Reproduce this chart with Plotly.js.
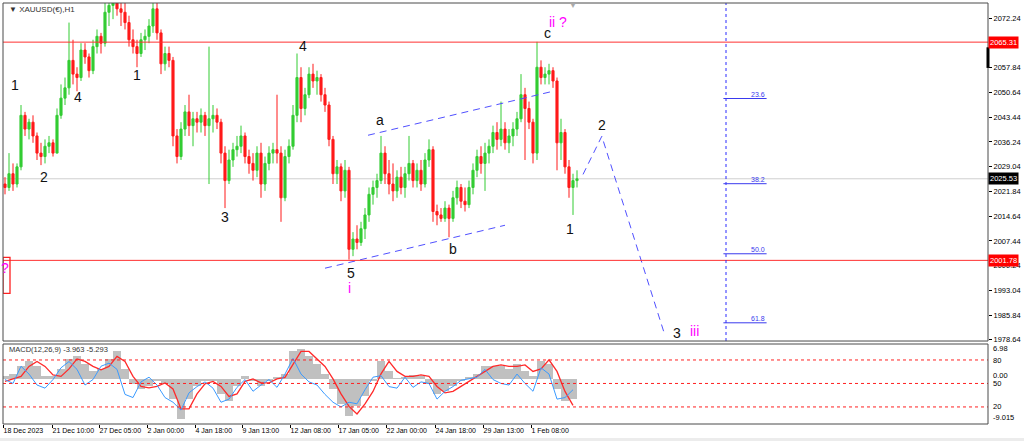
<!DOCTYPE html>
<html><head><meta charset="utf-8">
<script src="https://cdn.plot.ly/plotly-3.0.1.min.js"></script>
<style>html,body{margin:0;padding:0;background:#fff;}#chart{width:1024px;height:441px;}</style>
</head><body><div id="chart"></div>
<script>
// ---------- price data (one candle per ~5 hourly bars) ----------
const openP=[2024,2023,2027,2024,2029,2044,2040,2042,2038,2033,
2032,2035,2036,2033,2044,2049,2052,2060,2056,2055,
2063,2061,2057,2064,2067,2065,2074,2076,2078,2075,
2074,2071,2066,2064,2062,2066,2067,2070,2075,2068,
2059,2062,2060,2038,2032,2040,2045,2041,2043,2042,
2044,2041,2043,2044,2042,2033,2025,2031,2034,2035,
2038,2032,2030,2028,2033,2024,2030,2033,2034,2033,
2020,2032,2035,2044,2055,2046,2050,2056,2054,2055,
2050,2047,2037,2027,2029,2022,2028,2005,2008,2007,
2011,2015,2021,2023,2025,2033,2027,2024,2022,2026,
2023,2027,2030,2025,2028,2024,2031,2034,2016,2015,
2014,2017,2014,2020,2023,2019,2018,2023,2028,2032,
2030,2033,2035,2039,2037,2040,2036,2038,2040,2043,
2050,2046,2042,2033,2058,2055,2056,2057,2054,2036,
2039,2029,2023,2025];
const highP=[2026,2033,2030,2030,2047,2045,2043,2044,2039,2036,
2037,2038,2037,2046,2053,2055,2071,2066,2058,2065,
2065,2062,2066,2069,2068,2077,2078,2080,2082,2080,
2077,2073,2069,2066,2068,2069,2072,2078,2077,2069,
2064,2064,2061,2040,2042,2047,2050,2045,2045,2046,
2045,2064,2047,2046,2043,2035,2034,2036,2038,2041,
2039,2034,2033,2035,2036,2032,2035,2036,2050,2035,
2034,2037,2047,2062,2058,2052,2058,2059,2057,2056,
2052,2048,2038,2031,2030,2031,2029,2010,2012,2013,
2017,2023,2025,2027,2038,2035,2031,2030,2028,2029,
2029,2038,2031,2030,2031,2033,2037,2035,2018,2017,
2019,2018,2022,2025,2024,2023,2025,2030,2034,2035,
2036,2037,2041,2042,2048,2042,2040,2042,2045,2056,
2052,2048,2043,2065.4,2060,2058,2059,2058,2055,2043,
2040,2031,2027,2028];
const lowP=[2021,2022,2022,2023,2028,2038,2037,2036,2031,2029.5,
2030,2033,2032,2033,2043,2047,2050,2053,2051,2054,
2059,2055,2056,2062,2062,2064,2070,2072,2073,2070,
2069,2064,2062,2058,2061,2063,2065,2068,2066,2056,
2057,2058,2035,2030,2031,2038,2038,2035,2039,2039,
2038,2024,2039,2040,2030,2017,2024,2029,2032,2033,
2030,2027,2025,2026,2020,2022,2028,2030,2030,2013,
2019,2030,2034,2042,2042,2044,2049,2052,2050,2048,
2045,2035,2024,2024,2019,2020,2002,2003,2005,2006,
2008,2013,2018,2020,2024,2024,2021,2019,2020,2021,
2020,2025,2023,2023,2022,2023,2029,2013,2012,2013,
2013,2008.5,2013,2018,2017,2016,2017,2021,2026,2027,
2022,2030,2033,2034,2035,2034,2033,2035,2038,2042,
2031,2040,2030,2031,2053,2053,2053,2052,2028,2031,
2027,2020,2015,2023];
const closeP=[2023,2027,2024,2029,2044,2040,2042,2038,2033,2032,
2035,2036,2033,2044,2049,2052,2060,2056,2055,2063,
2061,2057,2064,2067,2065,2074,2076,2078,2075,2074,
2071,2066,2064,2062,2066,2067,2070,2075,2068,2059,
2062,2060,2038,2032,2040,2045,2041,2043,2042,2044,
2041,2043,2044,2042,2033,2025,2031,2034,2035,2038,
2032,2030,2028,2033,2024,2030,2033,2034,2033,2020,
2032,2035,2044,2055,2046,2050,2056,2054,2055,2050,
2047,2037,2027,2029,2022,2028,2005,2008,2007,2011,
2015,2021,2023,2025,2033,2027,2024,2022,2026,2023,
2027,2030,2025,2028,2024,2031,2034,2016,2015,2014,
2017,2014,2020,2023,2019,2018,2023,2028,2032,2030,
2033,2035,2039,2037,2040,2036,2038,2040,2043,2050,
2046,2042,2033,2058,2055,2056,2057,2054,2036,2039,
2029,2023,2025,2025.53];

// ---------- MACD panel (one sample per two candles) ----------
const macdHist=[0.5,1.0,2.5,3.5,2.5,0.5,0.5,2.0,4.0,4.5,
3.0,1.5,2.0,4.0,5.5,2.0,-1.0,-2.0,-1.5,-0.5,
-1.0,-4.0,-8.0,-4.0,-1.5,-0.5,-0.5,-3.0,-4.5,-1.5,
0.5,-0.5,-1.5,-0.5,0.3,1.0,5.5,6.0,4.5,3.0,
1.0,-2.0,-5.0,-7.5,-5.5,-3.5,-0.5,3.5,1.5,0.2,
0.3,0.8,0.5,-1.0,-3.0,-2.5,-1.5,-0.5,0.3,1.0,
2.5,2.5,2.5,2.0,3.0,1.5,0.5,3.5,3.0,-2.0,
-4.5,-3.963];
const macdSignal=[-0.5,0.0,0.5,2.5,3.5,2.5,0.8,0.5,2.0,4.0,
3.5,2.5,1.8,2.5,4.5,3.5,0.5,-1.5,-1.8,-1.5,
-0.8,-2.0,-6.0,-6.0,-3.0,-1.0,-0.5,-1.5,-3.5,-3.0,
-0.5,0.0,-0.8,-0.8,0.0,0.3,3.0,5.5,5.5,4.0,
2.5,0.0,-3.0,-5.5,-7.0,-5.0,-2.5,1.0,3.5,1.5,
0.5,0.5,0.8,0.5,-1.5,-2.8,-2.5,-1.5,-0.5,0.5,
1.5,2.5,2.8,2.5,2.5,2.8,1.5,2.0,3.8,1.5,
-2.5,-5.293];
const oscBlue=[55,50,72,62,48,44,55,70,78,68,
48,55,72,76,68,36,32,52,58,48,
32,26,16,38,46,52,44,26,30,45,
55,40,48,55,45,62,82,62,52,48,
36,26,20,26,24,42,58,60,46,44,
58,45,52,50,30,40,46,54,56,58,
68,55,50,48,62,50,40,70,62,30,
32,42];
const oscLevels=[80,50,20];

// ---------- axes ----------
const priceTicks=[2072.24,2057.84,2050.64,2043.44,2036.24,2029.04,2021.84,2014.64,2007.44,2000.24,1993.04,1985.84,1978.64];
const timeTickIdx=[-0.5,11.75,23.5,35.5,47.5,59.25,71.25,83.25,95.25,107.5,119.5,131.5];
const timeTickText=['18 Dec 2023','21 Dec 10:00','27 Dec 05:00','2 Jan 00:00','4 Jan 18:00','9 Jan 13:00','12 Jan 08:00','17 Jan 05:00','22 Jan 00:00','24 Jan 18:00','29 Jan 13:00','1 Feb 08:00'];

// ---------- levels & drawings ----------
const redLevels=[2065.31,2001.78];
const bidPrice=2025.53;
const fibText=['23.6','38.2','50.0','61.8'];
const fibPrices=[2048.9,2024.1,2003.7,1983.6];
const fibTimeIdx=[180.25];
const fibSpanIdx=[179.6,190.4];
const chanTopIdx=[90.75,136.25], chanTopPrice=[2038.2,2050.8];
const chanBotIdx=[80,125], chanBotPrice=[1999.5,2012.0];
const projIdx=[144.5,149.2,164.75], projPrice=[2026.8,2037.9,1980.8];
const waveText=['1','2','4','1','4','3','5','a','b','c','1','2','3'];
const waveIdx=[2.5,9.75,18.25,33,74.5,55,86.5,93.75,112,135.5,141.25,149.25,168];
const wavePrice=[2052.8,2026.0,2049.3,2055.7,2064.2,2014.3,1998.0,2042.6,2005.0,2068.0,2010.8,2041.1,1980.5];
const degText=['i','ii ?','iii','?'];
const degIdx=[86,138.3,172.3,0];
const degPrice=[1993.6,2071.2,1981.1,1999.7];
const boxIdx=[-0.5,1.25], boxPrice=[1992.15,2002.65];

const idx=closeP.map((_,i)=>i);
const macdIdx=macdHist.map((_,k)=>2*k);
const FONT='Liberation Sans, Arial, sans-serif';

const traces=[
 {type:'candlestick',x:idx,open:openP,high:highP,low:lowP,close:closeP,xaxis:'x',yaxis:'y',
  increasing:{line:{color:'#33cc33',width:1},fillcolor:'#33cc33'},
  decreasing:{line:{color:'#ff1a1a',width:1},fillcolor:'#ff1a1a'},
  whiskerwidth:0,hoverinfo:'skip'},
 {type:'scatter',mode:'lines',x:projIdx,y:projPrice,xaxis:'x',yaxis:'y',
  line:{color:'#5050ff',width:1,dash:'7px,5px'},hoverinfo:'skip'},
 {type:'scatter',mode:'lines',x:chanTopIdx,y:chanTopPrice,xaxis:'x',yaxis:'y',
  line:{color:'#5050ff',width:1,dash:'7px,5px'},hoverinfo:'skip'},
 {type:'scatter',mode:'lines',x:chanBotIdx,y:chanBotPrice,xaxis:'x',yaxis:'y',
  line:{color:'#5050ff',width:1,dash:'7px,5px'},hoverinfo:'skip'},
 {type:'bar',x:macdIdx,y:macdHist,width:2,xaxis:'x',yaxis:'y2',
  marker:{color:'#c0c0c0',line:{width:0}},hoverinfo:'skip'},
 {type:'scatter',mode:'lines',x:macdIdx,y:macdSignal,xaxis:'x',yaxis:'y2',
  line:{color:'#ff2a2a',width:1.3},hoverinfo:'skip'},
 {type:'scatter',mode:'lines',x:macdIdx,y:oscBlue,xaxis:'x',yaxis:'y3',
  line:{color:'#3b9bff',width:1},hoverinfo:'skip'}
];

const shapes=[];
shapes.push({type:'line',layer:'below',xref:'paper',x0:0,x1:1,yref:'y',y0:bidPrice,y1:bidPrice,line:{color:'#cfcfcf',width:1}});
redLevels.forEach(p=>shapes.push({type:'line',xref:'paper',x0:0,x1:1,yref:'y',y0:p,y1:p,line:{color:'#ff3030',width:1}}));
shapes.push({type:'line',xref:'x',x0:fibTimeIdx[0],x1:fibTimeIdx[0],yref:'paper',y0:0.1971,y1:1,line:{color:'#2a2aff',width:1,dash:'dot'}});
fibPrices.forEach(p=>shapes.push({type:'line',xref:'x',x0:fibSpanIdx[0],x1:fibSpanIdx[1],yref:'y',y0:p,y1:p,line:{color:'#3a3aee',width:1}}));
shapes.push({type:'rect',xref:'x',x0:boxIdx[0],x1:boxIdx[1],yref:'y',y0:boxPrice[0],y1:boxPrice[1],line:{color:'#ff2020',width:1.3},fillcolor:'rgba(0,0,0,0)'});
oscLevels.forEach(v=>shapes.push({type:'line',xref:'paper',x0:0,x1:1,yref:'y3',y0:v,y1:v,line:{color:'#ff2020',width:1,dash:'3px,3px'}}));
shapes.push({type:'rect',xref:'paper',yref:'paper',x0:0,x1:1,y0:0.1971,y1:1,line:{color:'#4a4a4a',width:1}});
shapes.push({type:'rect',xref:'paper',yref:'paper',x0:0,x1:1,y0:0,y1:0.19,line:{color:'#4a4a4a',width:1}});
shapes.push({type:'line',xref:'paper',x0:1,x1:1,yref:'y',y0:2057.8,y1:2063.8,line:{color:'#000',width:3}});
shapes.push({type:'rect',xref:'paper',yref:'paper',x0:-0.01,x1:1.04,y0:-0.045,y1:-0.033,line:{width:0},fillcolor:'#ececec'});

const ann=[];
waveText.forEach((t,i)=>ann.push({xref:'x',yref:'y',x:waveIdx[i],y:wavePrice[i],text:t,showarrow:false,
  font:{family:FONT,size:14,color:'#111'}}));
degText.forEach((t,i)=>ann.push({xref:'x',yref:'y',x:degIdx[i],y:degPrice[i],text:t,showarrow:false,
  font:{family:FONT,size:14,color:'#ff00ff'}}));
fibText.forEach((t,i)=>ann.push({xref:'x',yref:'y',x:fibSpanIdx[1],y:fibPrices[i],text:t,showarrow:false,
  xanchor:'right',yanchor:'bottom',yshift:-1,font:{family:FONT,size:7,color:'#3a3aee'}}));
[[redLevels[0],'#ff0000'],[redLevels[1],'#ff0000'],[bidPrice,'#000000']].forEach(([p,c])=>ann.push({
  xref:'paper',yref:'y',x:1,y:p,xanchor:'left',yanchor:'middle',text:p.toFixed(2),showarrow:false,
  bgcolor:c,borderpad:1,font:{family:FONT,size:7.5,color:'#fff'}}));
ann.push({xref:'paper',yref:'paper',x:0.004,y:0.9857,xanchor:'left',yanchor:'middle',showarrow:false,
  text:'▼ XAUUSD(€),H1',font:{family:FONT,size:8,color:'#333'}});
ann.push({xref:'paper',yref:'paper',x:0.5787,y:0.994,xanchor:'center',yanchor:'middle',showarrow:false,
  text:'▼',font:{family:FONT,size:8,color:'#aaa'}});
ann.push({xref:'paper',yref:'paper',x:0.004,y:0.178,xanchor:'left',yanchor:'middle',showarrow:false,
  text:'MACD(12,26,9) -3.963 -5.293',font:{family:FONT,size:7.5,color:'#333'}});
const macdLab=[['6.98',0.1805],['80',0.152],['0.00',0.1145],['50',0.0965],['20',0.0404],['-9.015',0.0143]];
macdLab.forEach(([t,y])=>ann.push({xref:'paper',yref:'paper',x:1.003,y:y,xanchor:'left',yanchor:'middle',
  showarrow:false,text:t,font:{family:FONT,size:7.5,color:'#000'}}));

const layout={
 width:1024,height:441,margin:{l:3,r:36,t:3,b:17},
 paper_bgcolor:'#ffffff',plot_bgcolor:'#ffffff',showlegend:false,
 barmode:'overlay',bargap:0,boxgap:0.25,
 xaxis:{anchor:'y2',range:[-0.5,245.75],tickmode:'array',tickvals:timeTickIdx,ticktext:timeTickText,
  ticks:'outside',ticklen:3,tickcolor:'#000',ticklabelposition:'outside right',tickangle:0,
  tickfont:{family:FONT,size:7,color:'#000'},showgrid:false,zeroline:false,showline:false,
  rangeslider:{visible:false},fixedrange:true},
 yaxis:{domain:[0.1971,1],range:[1978.3,2076.7],side:'right',anchor:'x',tickmode:'array',
  tickvals:priceTicks,ticktext:priceTicks.map(v=>v.toFixed(2)),ticks:'outside',ticklen:3,tickcolor:'#000',
  tickfont:{family:FONT,size:7.5,color:'#000'},showgrid:false,zeroline:false,showline:false,fixedrange:true},
 yaxis2:{domain:[0,0.19],range:[-9.015,6.98],anchor:'x',side:'right',showticklabels:false,ticks:'',
  showgrid:false,zeroline:false,fixedrange:true},
 yaxis3:{overlaying:'y2',anchor:'x',range:[-1.8,100.4],visible:false,fixedrange:true},
 shapes:shapes,annotations:ann
};
Plotly.newPlot('chart',traces,layout,{staticPlot:true,displayModeBar:false});
</script></body></html>
